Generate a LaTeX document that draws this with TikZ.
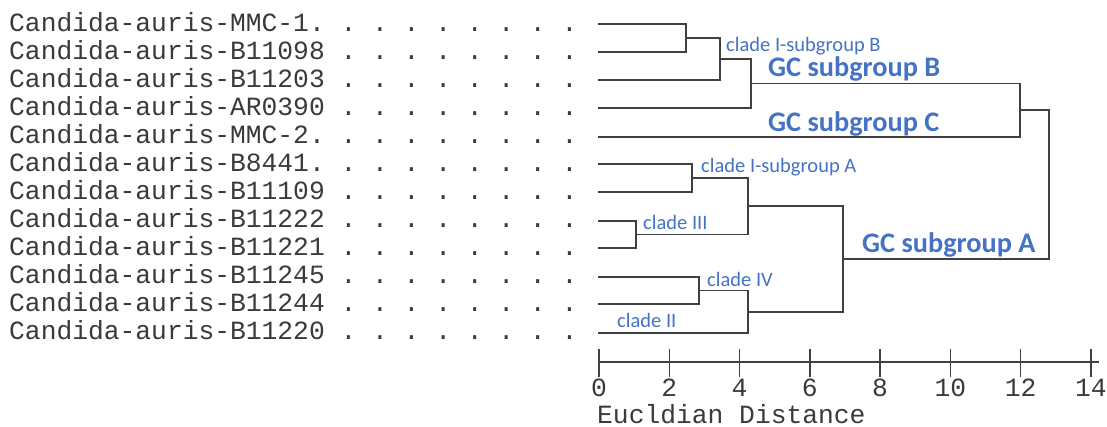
\documentclass[tikz,border=0pt]{standalone}
\usepackage{fontspec}
\newfontfamily\monofnt{Liberation Mono}
\newfontfamily\calfnt{Carlito}
\definecolor{lbl}{HTML}{4472C4}
\definecolor{ln}{HTML}{404040}
\definecolor{txt}{HTML}{3A3A3A}
\begin{document}
\frenchspacing
\begin{tikzpicture}[x=1pt,y=-1pt,
  tree/.style={draw=ln,line width=1.4pt},
  leaf/.style={anchor=base west,inner sep=0pt,text=txt,font=\monofnt\frenchspacing\fontsize{26.3}{26.3}\selectfont},
  ticklbl/.style={anchor=base,inner sep=0pt,text=txt,font=\monofnt\fontsize{26.3}{26.3}\selectfont},
  small/.style={anchor=base west,inner sep=0pt,text=lbl,font=\calfnt\fontsize{20.5}{20.5}\selectfont},
  big/.style={anchor=base west,inner sep=0pt,text=lbl,font=\calfnt\bfseries\fontsize{28.3}{28.3}\selectfont}]
\useasboundingbox (0,0) rectangle (1107,426);
% leaf labels
\node[leaf] (L1)  at (9,31)  {Candida-auris-MMC-1. . . . . . . . .};
\node[leaf] (L2)  at (9,59)  {Candida-auris-B11098 . . . . . . . .};
\node[leaf] (L3)  at (9,87)  {Candida-auris-B11203 . . . . . . . .};
\node[leaf] (L4)  at (9,115) {Candida-auris-AR0390 . . . . . . . .};
\node[leaf] (L5)  at (9,143) {Candida-auris-MMC-2. . . . . . . . .};
\node[leaf] (L6)  at (9,171) {Candida-auris-B8441. . . . . . . . .};
\node[leaf] (L7)  at (9,199) {Candida-auris-B11109 . . . . . . . .};
\node[leaf] (L8)  at (9,227) {Candida-auris-B11222 . . . . . . . .};
\node[leaf] (L9)  at (9,255) {Candida-auris-B11221 . . . . . . . .};
\node[leaf] (L10) at (9,283) {Candida-auris-B11245 . . . . . . . .};
\node[leaf] (L11) at (9,311) {Candida-auris-B11244 . . . . . . . .};
\node[leaf] (L12) at (9,339) {Candida-auris-B11220 . . . . . . . .};
% leaf starts
\coordinate (s1) at (598,24);
\coordinate (s2) at (598,52);
\coordinate (s3) at (598,80);
\coordinate (s4) at (598,108);
\coordinate (s5) at (598,137);
\coordinate (s6) at (598,164);
\coordinate (s7) at (598,192);
\coordinate (s8) at (598,221);
\coordinate (s9) at (598,248);
\coordinate (s10) at (598,277);
\coordinate (s11) at (598,304);
\coordinate (s12) at (598,333);
% internal nodes
\coordinate (n1) at (686,38);
\coordinate (n2) at (720,59);
\coordinate (n3) at (751,83.5);
\coordinate (n4) at (1020,110);
\coordinate (n6) at (692,178);
\coordinate (n7) at (636,234.5);
\coordinate (n8) at (748,206);
\coordinate (n9) at (699,290.5);
\coordinate (n10) at (748,312);
\coordinate (nA) at (843,259);
\coordinate (root) at (1049,184);
% tree
\draw[tree] (s1) -| (n1) |- (s2);
\draw[tree] (n1) -| (n2) |- (s3);
\draw[tree] (n2) -| (n3) |- (s4);
\draw[tree] (n3) -| (n4) |- (s5);
\draw[tree] (s6) -| (n6) |- (s7);
\draw[tree] (s8) -| (n7) |- (s9);
\draw[tree] (n6) -| (n8) |- (n7);
\draw[tree] (s10) -| (n9) |- (s11);
\draw[tree] (n9) -| (n10) |- (s12);
\draw[tree] (n8) -| (nA) |- (n10);
\draw[tree] (n4) -| (root) |- (nA);
% axis
\coordinate (a0) at (599,362);
\coordinate (a1) at (1099,362);
\draw[tree] (a0) -- (a1);
\foreach \k in {0,2,...,14}{
  \coordinate (t\k) at ({599+35.14*\k},362);
  \draw[tree] ([yshift=-15pt]t\k) -- ([yshift=13pt]t\k);
  \node[ticklbl] (tl\k) at ({599+35.14*\k},396) {\k};
}
\node[leaf] (xl) at (597,423) {Eucldian Distance};
% blue labels
\node[small] (cIB) at (726,51) {clade I-subgroup B};
\node[big] (gB) at (768,76) {GC subgroup B};
\node[big] (gC) at (768,131) {GC subgroup C};
\node[small] (cIA) at (701,172) {clade I-subgroup A};
\node[small] (c3) at (643,229) {clade III};
\node[small] (c4) at (707,286) {clade IV};
\node[small] (c2) at (617,327) {clade II};
\node[big] (gA) at (862,252) {GC subgroup A};
\end{tikzpicture}
\end{document}
